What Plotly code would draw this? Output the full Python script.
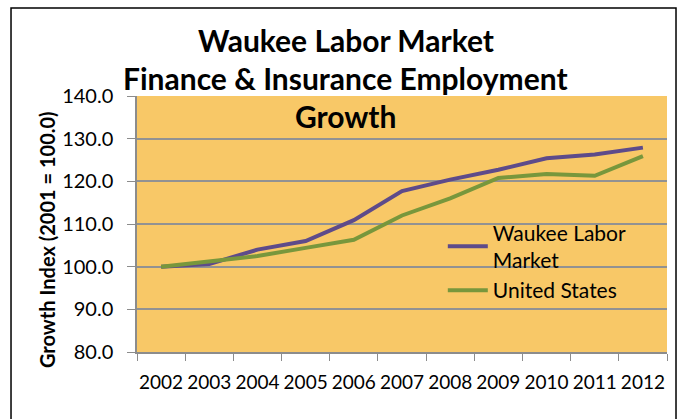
import plotly.graph_objects as go

years = ["2002", "2003", "2004", "2005", "2006", "2007", "2008", "2009", "2010", "2011", "2012"]
waukee = [100.0, 100.6, 104.0, 106.0, 110.9, 117.7, 120.4, 122.7, 125.4, 126.3, 127.9]
united_states = [100.0, 101.3, 102.5, 104.4, 106.3, 112.0, 116.0, 120.8, 121.7, 121.3, 125.9]

fig = go.Figure()
fig.add_trace(go.Scatter(x=years, y=waukee, mode="lines", name="Waukee Labor<br>Market",
                         line=dict(color="#5E4B8A", width=4)))
fig.add_trace(go.Scatter(x=years, y=united_states, mode="lines", name="United States",
                         line=dict(color="#78973C", width=4)))

fig.update_layout(
    width=679, height=419,
    margin=dict(l=137, r=12, t=96, b=67, autoexpand=False),
    paper_bgcolor="white",
    plot_bgcolor="#F8C867",
    font=dict(family="Lato", color="black"),
    showlegend=True,
    legend=dict(x=0.577, y=0.545, xanchor="left", yanchor="top",
                bgcolor="rgba(0,0,0,0)", font=dict(size=21), itemwidth=40,
                tracegroupgap=0),
    annotations=[
        dict(text="<b>Waukee Labor Market</b>", x=0.394, y=1.219, xref="paper", yref="paper",
             xanchor="center", yanchor="middle", showarrow=False, font=dict(size=30)),
        dict(text="<b>Finance & Insurance Employment</b>", x=0.394, y=1.070, xref="paper", yref="paper",
             xanchor="center", yanchor="middle", showarrow=False, font=dict(size=30)),
        dict(text="<b>Growth</b>", x=0.394, y=0.922, xref="paper", yref="paper",
             xanchor="center", yanchor="middle", showarrow=False, font=dict(size=30)),
        dict(text="<b>Growth Index (2001 = 100.0)</b>", x=-0.170, y=0.441, xref="paper", yref="paper",
             xanchor="center", yanchor="middle", showarrow=False, textangle=-90, font=dict(size=20)),
    ],
    shapes=[
        dict(type="rect", xref="paper", yref="paper", x0=-0.2377, x1=1.017, y0=-0.5, y1=1.344,
             line=dict(color="black", width=1.5)),
    ],
)
fig.update_xaxes(type="category", range=[-0.5, len(years) - 0.5], automargin=False,
                 showgrid=False, showline=True, linecolor="#8C8C8C", linewidth=1.5,
                 ticks="outside", tickson="boundaries", ticklen=7, tickcolor="#8C8C8C",
                 tickangle=0, ticklabelstandoff=12, tickfont=dict(size=19))
fig.update_yaxes(range=[80, 140], dtick=10, tickformat=".1f", automargin=False, showgrid=True,
                 gridcolor="#929292", gridwidth=1.5, showline=True, linecolor="#8C8C8C",
                 linewidth=1.5, ticks="outside", ticklen=8, tickcolor="#8C8C8C",
                 ticklabelstandoff=10, tickfont=dict(size=20), zeroline=False)

fig.write_html("out.html", config={"displayModeBar": False},
               post_script="document.body.style.margin='0';document.body.style.overflow='hidden';")
